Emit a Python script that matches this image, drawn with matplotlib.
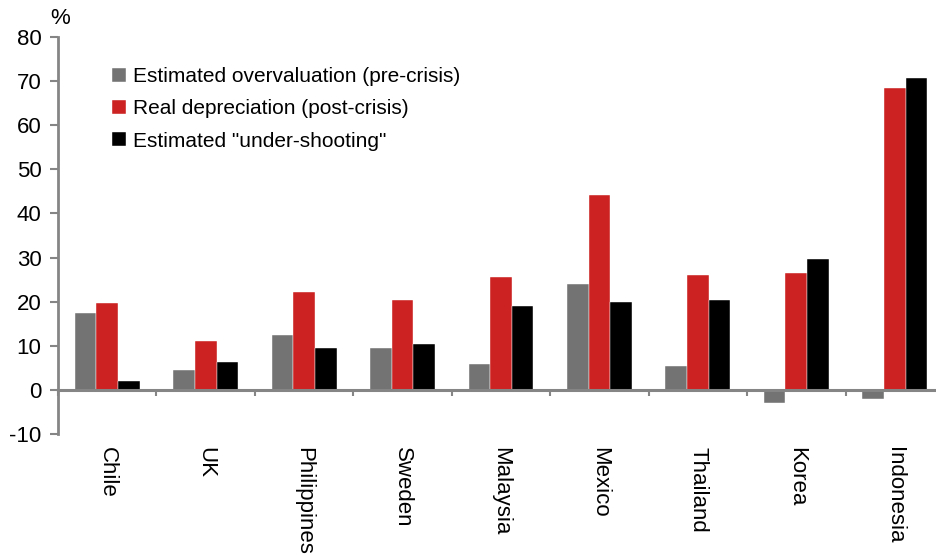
import matplotlib
matplotlib.use("Agg")
import matplotlib.pyplot as plt
import numpy as np

plt.rcParams['font.family'] = ['Liberation Sans', 'DejaVu Sans']
plt.rcParams['axes.unicode_minus'] = False

countries = ["Chile", "UK", "Philippines", "Sweden", "Malaysia",
             "Mexico", "Thailand", "Korea", "Indonesia"]
overvaluation = [17.5, 4.4, 12.5, 9.5, 5.8, 24.0, 5.4, -3.0, -2.0]
depreciation = [19.8, 11.0, 22.1, 20.3, 25.5, 44.2, 26.0, 26.5, 68.4]
undershooting = [2.1, 6.3, 9.5, 10.5, 19.0, 19.9, 20.3, 29.7, 70.6]

series = [
    ("Estimated overvaluation (pre-crisis)", overvaluation, "#737373"),
    ("Real depreciation (post-crisis)", depreciation, "#cc2222"),
    ('Estimated "under-shooting"', undershooting, "#000000"),
]

axis_grey = "#858585"

fig = plt.figure(figsize=(9.36, 5.56), dpi=100)
ax = fig.add_axes([0.062, 0.2194, 0.9465, 0.7141])

x = np.arange(len(countries))
width = 0.22
for i, (label, vals, color) in enumerate(series):
    ax.bar(x + (i - 1) * width, vals, width, color=color, label=label,
           edgecolor="white", linewidth=0.3, zorder=2)

ax.set_xlim(-0.5, len(countries) - 0.5)
ax.set_ylim(-10, 80)
ax.set_yticks(np.arange(-10, 81, 10))

for side in ("top", "right"):
    ax.spines[side].set_visible(False)
ax.spines["left"].set_color(axis_grey)
ax.spines["left"].set_linewidth(2)
ax.spines["bottom"].set_position(("data", 0))
ax.spines["bottom"].set_color(axis_grey)
ax.spines["bottom"].set_linewidth(2.2)
ax.spines["bottom"].set_zorder(3)

ax.tick_params(axis="y", direction="out", length=6, width=1.5,
               color=axis_grey, labelsize=16, pad=6)
ax.set_xticks(x, countries, rotation=270, ha="center", va="top")
ax.set_xticks(np.arange(len(countries) + 1) - 0.5, minor=True)
ax.tick_params(axis="x", which="major", length=0, labelsize=16, pad=41)
ax.tick_params(axis="x", which="minor", direction="out", length=4,
               width=1.5, color=axis_grey)

fig.text(0.064, 0.966, "%", fontsize=16, ha="center", va="center")

ax.legend(loc="upper left", bbox_to_anchor=(0.111, 0.894), bbox_transform=fig.transFigure,
          frameon=False, fontsize=15, handlelength=0.65, handleheight=0.65,
          handletextpad=0.35, labelspacing=0.63, borderaxespad=0)

fig.savefig("out.png", dpi=100)
